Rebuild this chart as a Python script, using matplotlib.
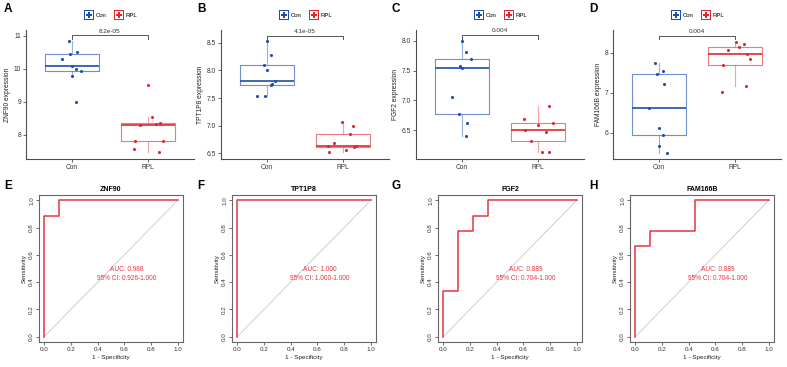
import matplotlib
matplotlib.use("Agg")
import matplotlib.pyplot as plt
from matplotlib.lines import Line2D

plt.rcParams['font.family'] = ['Liberation Sans', 'DejaVu Sans']

# region data
genes = ["ZNF90", "TPT1P8", "FGF2", "FAM166B"]
groups = ["Con", "RPL"]
pvals = ["8.2e-05", "4.1e-05", "0.004", "0.004"]

znf90_con = [10.85, 10.44, 10.51, 10.30, 10.09, 9.99, 9.94, 9.80, 9.00]
znf90_rpl = [9.50, 8.53, 8.30, 8.32, 8.35, 7.82, 7.82, 7.57, 7.47]
tpt1p8_con = [8.53, 8.285, 8.09, 8.00, 7.80, 7.75, 7.74, 7.53, 7.545]
tpt1p8_rpl = [7.06, 6.995, 6.85, 6.685, 6.64, 6.63, 6.61, 6.57, 6.52]
fgf2_con = [8.00, 7.81, 7.69, 7.58, 7.54, 7.05, 6.77, 6.63, 6.40]
fgf2_rpl = [6.91, 6.69, 6.62, 6.59, 6.50, 6.48, 6.32, 6.14, 6.14]
fam166b_con = [7.74, 7.54, 7.48, 7.22, 6.62, 6.12, 5.94, 5.67, 5.51]
fam166b_rpl = [8.28, 8.23, 8.14, 8.07, 7.975, 7.85, 7.70, 7.18, 7.02]

# ROC step curves (1 - specificity, sensitivity)
znf90_fpr = [0, 0, 0.111, 0.111, 1]
znf90_tpr = [0, 0.889, 0.889, 1, 1]
tpt1p8_fpr = [0, 0, 1]
tpt1p8_tpr = [0, 1, 1]
fgf2_fpr = [0, 0, 0.111, 0.111, 0.222, 0.222, 0.333, 0.333, 1]
fgf2_tpr = [0, 0.333, 0.333, 0.778, 0.778, 0.889, 0.889, 1, 1]
fam166b_fpr = [0, 0, 0.111, 0.111, 0.444, 0.444, 1]
fam166b_tpr = [0, 0.667, 0.667, 0.778, 0.778, 1, 1]
aucs = ["0.988", "1.000", "0.889", "0.889"]
cis = ["0.926-1.000", "1.000-1.000", "0.704-1.000", "0.704-1.000"]
# endregion

# jitter offsets of the points (category units)
jit_con = [[-0.043, -0.022, 0.069, -0.134, 0, 0.056, 0.117, 0, 0.056],
           [0, 0.056, -0.043, 0, 0.108, 0.069, 0.056, -0.134, -0.03],
           [0, 0.052, 0.118, -0.026, 0, -0.131, -0.039, 0.066, 0.052],
           [-0.053, 0.053, -0.023, 0.066, -0.134, 0, 0.053, 0, 0.109]]
jit_rpl = [[0, 0.048, -0.104, 0.108, 0.152, -0.169, 0.19, -0.182, 0.147],
           [-0.013, 0.126, 0.091, -0.117, -0.195, 0.173, 0.139, 0.035, -0.182],
           [0.14, -0.188, 0.188, -0.004, -0.17, 0.105, -0.1, 0.044, 0.148],
           [0.009, 0.111, 0.051, -0.098, 0.153, 0.196, -0.166, 0.145, -0.179]]

con_vals = [znf90_con, tpt1p8_con, fgf2_con, fam166b_con]
rpl_vals = [znf90_rpl, tpt1p8_rpl, fgf2_rpl, fam166b_rpl]
fprs = [znf90_fpr, tpt1p8_fpr, fgf2_fpr, fam166b_fpr]
tprs = [znf90_tpr, tpt1p8_tpr, fgf2_tpr, fam166b_tpr]

ylims = [(7.27, 11.18), (6.40, 8.73), (6.02, 8.18), (5.35, 8.57)]
yticks = [[8, 9, 10, 11], [6.5, 7.0, 7.5, 8.0, 8.5], [6.5, 7.0, 7.5, 8.0], [6, 7, 8]]
ytfmt = ["%d", "%.1f", "%.1f", "%d"]
bracket_y = [11.03, 8.63, 8.10, 8.43]

blue_box, blue_dark = "#6f8fcf", "#1f4fa8"
red_box, red_dark = "#ee7b7b", "#e3262e"
roc_red = "#e8343c"
axis_col = "#4d4d4d"

W, H = 787, 367
fig = plt.figure(figsize=(W / 100, H / 100), dpi=100)

top_left = [26, 221, 416, 613]
bot_left = [39, 232, 438, 630]
top_letters = ["A", "B", "C", "D"]
bot_letters = ["E", "F", "G", "H"]
letter_x = [4, 197, 392, 589]

for i in range(4):
    ax = fig.add_axes([top_left[i] / W, (H - 159) / H, 168 / W, 129 / H])
    for pos, vals, jit, cb, cd in [(1, con_vals[i], jit_con[i], blue_box, blue_dark),
                                   (2, rpl_vals[i], jit_rpl[i], red_box, red_dark)]:
        ax.boxplot([vals], positions=[pos], widths=0.7, showfliers=False, showcaps=False,
                   boxprops=dict(color=cb, linewidth=0.8),
                   whiskerprops=dict(color=cb, linewidth=0.8, alpha=0.7),
                   medianprops=dict(color=cd, linewidth=1.2))
        ax.scatter([pos + j for j in jit], vals, s=5, color=cd, zorder=3, linewidths=0)
    ylo, yhi = ylims[i]
    ax.set_xlim(0.4, 2.6)
    ax.set_ylim(ylo, yhi)
    tk = 0.03 * (yhi - ylo)
    ax.plot([1, 1, 2, 2], [bracket_y[i] - tk, bracket_y[i], bracket_y[i], bracket_y[i] - tk],
            color="#555555", linewidth=0.7)
    ax.text(1.5, bracket_y[i] + 0.01 * (yhi - ylo), pvals[i], ha="center", va="bottom",
            fontsize=4.6, color="#333333")
    ax.set_xticks([1, 2])
    ax.set_xticklabels(groups)
    ax.set_yticks(yticks[i])
    ax.set_yticklabels([ytfmt[i] % t for t in yticks[i]])
    ax.tick_params(labelsize=4.8, length=2, width=0.6, color=axis_col, pad=1.5, labelcolor="#333333")
    ax.set_ylabel(genes[i] + " expression", fontsize=4.8, labelpad=2, color="#222222")
    for s in ["top", "right"]:
        ax.spines[s].set_visible(False)
    for s in ["left", "bottom"]:
        ax.spines[s].set_color(axis_col)
        ax.spines[s].set_linewidth(0.8)
    handles = [Line2D([], [], marker=r"$\boxplus$", color=blue_dark, markeredgewidth=0,
                      linestyle="none", markersize=7),
               Line2D([], [], marker=r"$\boxplus$", color=red_dark, markeredgewidth=0,
                      linestyle="none", markersize=7)]
    ax.legend(handles, groups, loc="center", bbox_to_anchor=(0.5, 1.116), ncol=2, frameon=False,
              fontsize=4.3, handletextpad=0.2, columnspacing=1.0, borderpad=0)
    fig.text(letter_x[i] / W, 1 - 9 / H, top_letters[i], fontsize=8.5, fontweight="bold", va="center")

for i in range(4):
    ax = fig.add_axes([bot_left[i] / W, (H - 342) / H, 144 / W, 147 / H])
    ax.plot([0, 1], [0, 1], color="#c8c8c8", linewidth=0.6)
    ax.plot(fprs[i], tprs[i], color=roc_red, linewidth=1.1)
    ax.set_xlim(-0.04, 1.04)
    ax.set_ylim(-0.04, 1.04)
    ticks = [0, 0.2, 0.4, 0.6, 0.8, 1.0]
    ax.set_xticks(ticks)
    ax.set_yticks(ticks)
    ax.set_xticklabels(["%.1f" % t for t in ticks])
    ax.set_yticklabels(["%.1f" % t for t in ticks], rotation=90, va="center")
    ax.tick_params(labelsize=4.5, length=2, width=0.6, color="#555555", pad=1.5, labelcolor="#333333")
    ax.set_xlabel("1 - Specificity", fontsize=4.6, labelpad=2, color="#222222")
    ax.set_ylabel("Sensitivity", fontsize=4.6, labelpad=2, color="#222222")
    ax.set_title(genes[i], fontsize=5, fontweight="bold", pad=3)
    for s in ax.spines.values():
        s.set_color("#666666")
        s.set_linewidth(0.8)
    ax.text(0.62, 0.46, "AUC: " + aucs[i] + "\n95% CI: " + cis[i], ha="center", va="center",
            fontsize=4.7, color=roc_red, linespacing=1.25)
    fig.text(letter_x[i] / W, 1 - 186 / H, bot_letters[i], fontsize=8.5, fontweight="bold", va="center")

fig.savefig("out.png", dpi=100)
